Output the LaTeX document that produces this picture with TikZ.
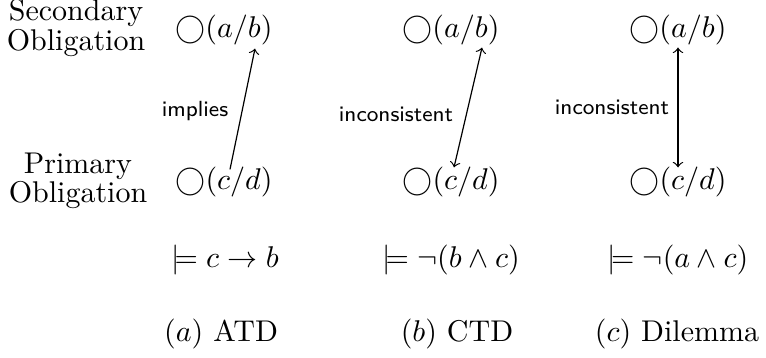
\documentclass[tikz,border=0pt]{standalone}
\usetikzlibrary{calc}
\begin{document}
\begin{tikzpicture}[x=0.3333pt,y=-0.3333pt,
  obl/.style={inner sep=0pt, anchor=base},
  side/.style={align=center, inner sep=0pt, font=\fontsize{10}{9.7}\selectfont},
  lab/.style={font=\sffamily\fontsize{7.3}{8}\selectfont, inner sep=0pt, anchor=base},
  form/.style={inner sep=0pt, anchor=base}]
\useasboundingbox (0,0) rectangle (766,358);
% side labels
\node[side] (sec) at (76,28) {Secondary\\Obligation};
\node[side] (pri) at (78,181) {Primary\\Obligation};
% obligations
\node[obl] (aba) at (224,38) {$\bigcirc(a/b)$};
\node[obl] (cda) at (224,190) {$\bigcirc(c/d)$};
\node[obl] (abb) at (451,38) {$\bigcirc(a/b)$};
\node[obl] (cdb) at (451,190) {$\bigcirc(c/d)$};
\node[obl] (abc) at (678,38) {$\bigcirc(a/b)$};
\node[obl] (cdc) at (678,190) {$\bigcirc(c/d)$};
% connectors
\draw[->] ($(cda.north)+(6,2.5)$) -- ($(aba.south)+(31,2.5)$);
\draw[<->] ($(cdb.north)+(3,0.5)$) -- ($(abb.south)+(31,1.5)$);
\draw[<->] ($(cdc.north)+(0,0.5)$) -- ($(abc.south)+(0,1.5)$);
% connector labels
\node[lab] (la) at (195,117) {implies};
\node[lab] (lb) at (396,122) {inconsistent};
\node[lab] (lc) at (612,115) {inconsistent};
% formulas
\node[form] (fa) at (225,268) {$\models c\rightarrow b$};
\node[form] (fb) at (451,268) {$\models \neg(b\wedge c)$};
\node[form] (fc) at (678,268) {$\models \neg(a\wedge c)$};
% captions
\node[form] (ca) at (221,342) {$(a)$ ATD};
\node[form] (cb) at (457,342) {$(b)$ CTD};
\node[form] (cc) at (677,342) {$(c)$ Dilemma};
\end{tikzpicture}
\end{document}
